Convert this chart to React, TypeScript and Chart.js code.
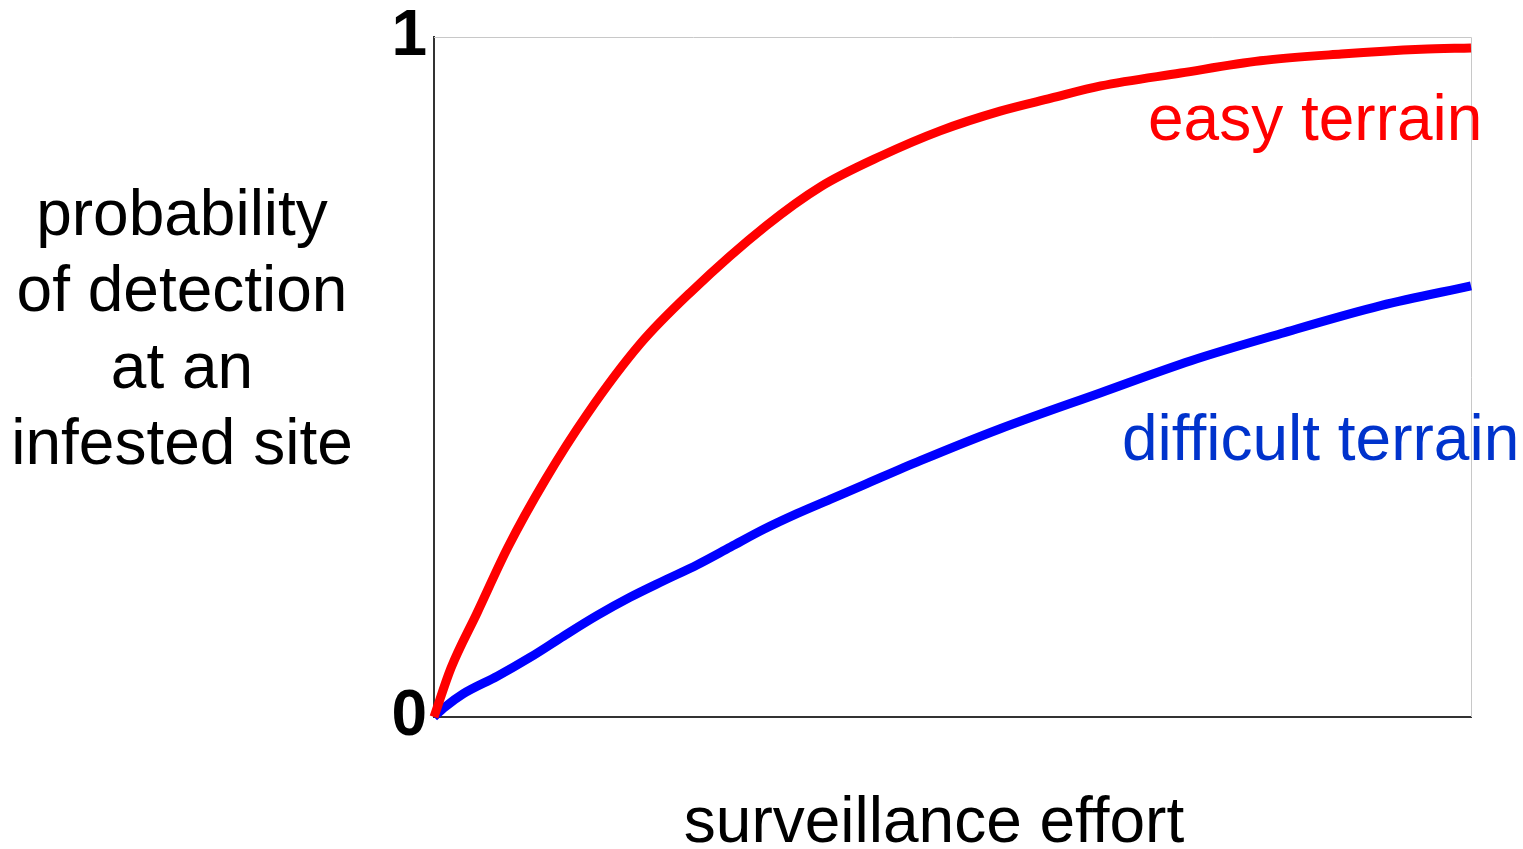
import React, { useEffect, useRef } from "react";
import { Chart, registerables } from "chart.js";

Chart.register(...registerables);

// surveillance effort (fraction of the axis) and probability of detection
const easyX = [0, 0.0164, 0.0415, 0.0714, 0.107, 0.148, 0.199, 0.247, 0.32, 0.373, 0.431, 0.488, 0.546, 0.595, 0.643, 0.72, 0.797, 0.875, 0.952, 1.0];
const easyY = [0, 0.072, 0.153, 0.25, 0.348, 0.446, 0.549, 0.624, 0.722, 0.78, 0.825, 0.862, 0.891, 0.91, 0.928, 0.947, 0.965, 0.975, 0.982, 0.984];
const hardX = [0, 0.0106, 0.028, 0.061, 0.093, 0.125, 0.157, 0.189, 0.221, 0.254, 0.286, 0.318, 0.35, 0.382, 0.414, 0.469, 0.546, 0.643, 0.73, 0.817, 0.913, 1.0];
const hardY = [0, 0.0147, 0.034, 0.06, 0.088, 0.119, 0.149, 0.176, 0.2, 0.224, 0.25, 0.276, 0.299, 0.32, 0.341, 0.377, 0.424, 0.477, 0.524, 0.564, 0.605, 0.634];

const yTitleLines = ["probability", "of detection", "at an", "infested site"];
const xTitle = "surveillance effort";
const easyLabel = "easy terrain";
const hardLabel = "difficult terrain";
const yTickLabels: Record<number, string> = { 0: "0", 1: "1" };

const FONT = '"Liberation Sans", Arial, sans-serif';

const textPlugin = {
  id: "texts",
  beforeDatasetsDraw(chart: any) {
    const { ctx, chartArea } = chart;
    ctx.save();
    ctx.strokeStyle = "#c8c8c8";
    ctx.lineWidth = 1;
    ctx.beginPath();
    ctx.moveTo(chartArea.left, chartArea.top + 0.5);
    ctx.lineTo(chartArea.right + 0.5, chartArea.top + 0.5);
    ctx.lineTo(chartArea.right + 0.5, chartArea.bottom);
    ctx.stroke();
    ctx.restore();
  },
  afterDraw(chart: any) {
    const { ctx } = chart;
    ctx.save();
    ctx.font = `64px ${FONT}`;
    ctx.textBaseline = "alphabetic";
    ctx.fillStyle = "#000";
    ctx.textAlign = "center";
    const base = [235, 311, 388, 464];
    yTitleLines.forEach((l, i) => ctx.fillText(l, 182, base[i]));
    ctx.fillText(xTitle, 934, 842);
    ctx.textAlign = "left";
    ctx.fillStyle = "#ff0000";
    ctx.fillText(easyLabel, 1148, 140);
    ctx.fillStyle = "#0033cc";
    ctx.fillText(hardLabel, 1122, 460);
    ctx.restore();
  },
};

export default function App() {
  const ref = useRef<HTMLCanvasElement>(null);
  useEffect(() => {
    if (!ref.current) return;
    const chart = new Chart(ref.current, {
      type: "line",
      data: {
        datasets: [
          {
            label: easyLabel,
            data: easyX.map((x, i) => ({ x, y: easyY[i] })),
            borderColor: "#ff0000",
            borderWidth: 9,
            pointRadius: 0,
            cubicInterpolationMode: "monotone",
            clip: 10,
          },
          {
            label: hardLabel,
            data: hardX.map((x, i) => ({ x, y: hardY[i] })),
            borderColor: "#0000ff",
            borderWidth: 9,
            pointRadius: 0,
            cubicInterpolationMode: "monotone",
            clip: 10,
          },
        ],
      },
      options: {
        animation: false,
        responsive: false,
        layout: { padding: { top: 37, right: 52, left: 0, bottom: 0 } },
        plugins: { legend: { display: false }, tooltip: { enabled: false } },
        scales: {
          x: {
            type: "linear",
            min: 0,
            max: 1,
            grid: { display: false, drawTicks: false },
            ticks: { display: false },
            border: { color: "#333", width: 2 },
            afterFit: (s: any) => {
              s.height = 132;
            },
          },
          y: {
            min: 0,
            max: 1,
            grid: { display: false, drawTicks: false },
            border: { color: "#333", width: 2 },
            ticks: {
              stepSize: 1,
              padding: 7,
              color: "#000",
              font: { family: FONT, size: 64, weight: "bold", lineHeight: 0.9 },
              callback: (v: any) => yTickLabels[v] ?? "",
            },
            afterFit: (s: any) => {
              s.width = 434;
            },
          },
        },
      },
      plugins: [textPlugin],
    } as any);
    return () => chart.destroy();
  }, []);
  return (
    <div style={{ position: "absolute", left: 0, top: 0, width: 1523, height: 849, background: "#fff" }}>
      <canvas ref={ref} width={1523} height={849} />
    </div>
  );
}
